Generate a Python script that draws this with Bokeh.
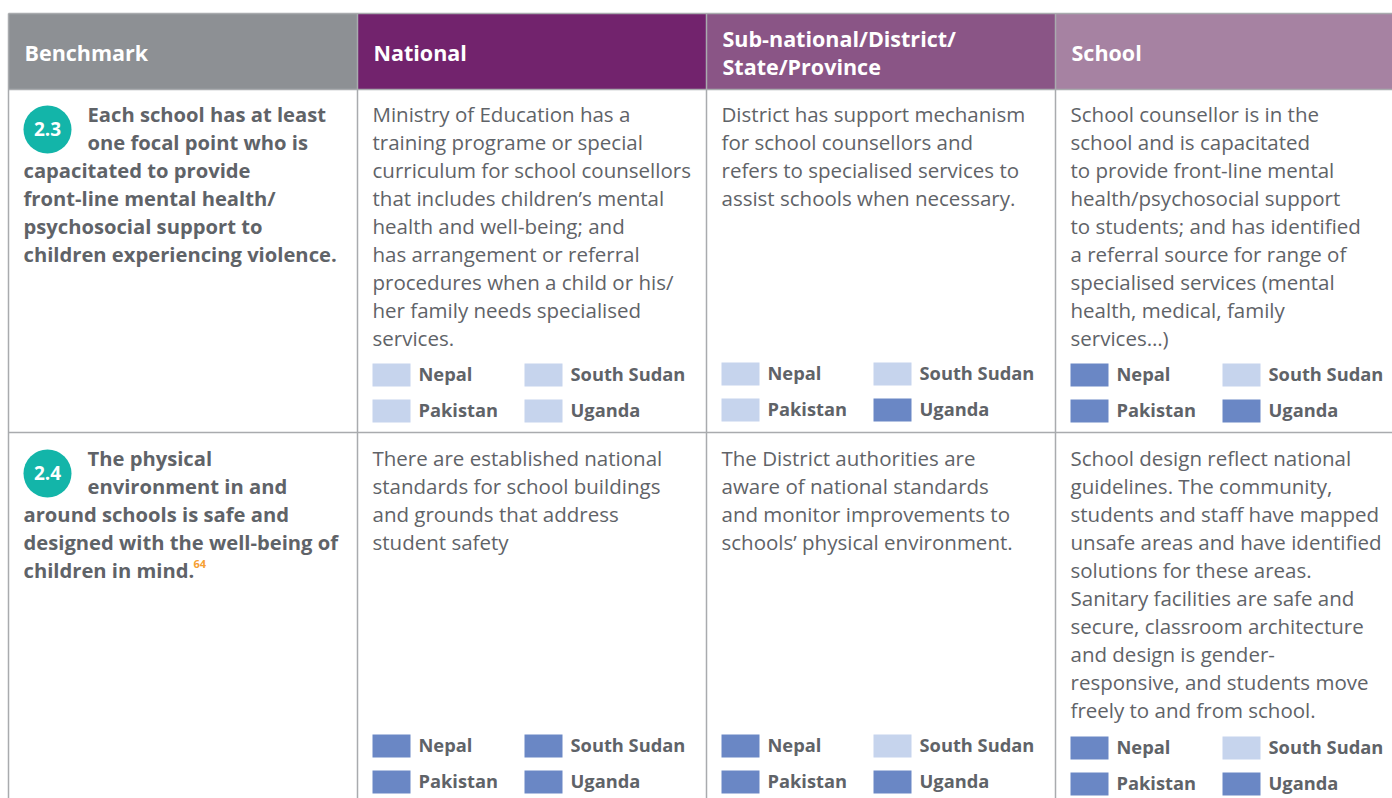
from bokeh.plotting import figure
from bokeh.models import Range1d
from bokeh.core.properties import value
from bokeh.embed import file_html
from bokeh.resources import INLINE

# ---------------- data ----------------
headers = ["Benchmark", "National", "Sub-national/District/\nState/Province", "School"]
benchmark_ids = ["2.3", "2.4"]
benchmark_23 = ["Each school has at least", "one focal point who is", "capacitated to provide",
                "front-line mental health/", "psychosocial support to",
                "children experiencing violence."]
benchmark_24 = ["The physical", "environment in and", "around schools is safe and",
                "designed with the well-being of", "children in mind."]
footnote_24 = "64"
national_23 = ["Ministry of Education has a", "training programe or special",
               "curriculum for school counsellors", "that includes children\u2019s mental",
               "health and well-being; and", "has arrangement or referral",
               "procedures when a child or his/", "her family needs specialised", "services."]
subnational_23 = ["District has support mechanism", "for school counsellors and",
                  "refers to specialised services to", "assist schools when necessary."]
school_23 = ["School counsellor is in the", "school and is capacitated",
             "to provide front-line mental", "health/psychosocial support",
             "to students; and has identified", "a referral source for range of",
             "specialised services (mental", "health, medical, family", "services\u2026)"]
national_24 = ["There are established national", "standards for school buildings",
               "and grounds that address", "student safety"]
subnational_24 = ["The District authorities are", "aware of national standards",
                  "and monitor improvements to", "schools\u2019 physical environment."]
school_24 = ["School design reflect national", "guidelines. The community,",
             "students and staff have mapped", "unsafe areas and have identified",
             "solutions for these areas.", "Sanitary facilities are safe and",
             "secure, classroom architecture", "and design is gender-",
             "responsive, and students move", "freely to and from school."]
countries = ["Nepal", "South Sudan", "Pakistan", "Uganda"]
# 1 = in place (dark swatch), 0 = not in place (light swatch); order as countries
status_23_national = [0, 0, 0, 0]
status_23_subnational = [0, 0, 0, 1]
status_23_school = [1, 0, 1, 1]
status_24_national = [1, 1, 1, 1]
status_24_subnational = [1, 0, 1, 1]
status_24_school = [1, 0, 1, 1]

# ---------------- styles ----------------
FONT = "Open Sans"
TEXT_COL = "#5f6368"
HEAD_COLS = ["#8d9094", "#72236d", "#8a5586", "#a682a2"]
DARK = "#6a87c5"
LIGHT = "#c6d4ed"
TEAL = "#13b5a9"
BORDER = "#a9abae"
ORANGE = "#f6a033"
BODY_SIZE = "20.5px"
BOLD_SIZE = "20.2px"
HEAD_SIZE = "21.5px"
LEG_SIZE = "18.3px"
TY = -2  # vertical correction of text baseline

col_edges = [8, 357, 706, 1055, 1410]
top, head_bottom, row1_bottom, bottom = 13, 89, 432, 810
line_h = 28

p = figure(width=1392, height=798, x_range=Range1d(0, 1392), y_range=Range1d(798, 0),
           output_backend="svg", toolbar_location=None, min_border=0,
           x_axis_location=None, y_axis_location=None)
p.grid.visible = False
p.outline_line_color = None
p.background_fill_color = "white"
p.border_fill_color = "white"

# header cells
p.quad(left=col_edges[:-1], right=col_edges[1:], top=[top] * 4, bottom=[head_bottom] * 4,
       fill_color=HEAD_COLS, line_color=None)

# header labels
for i, h in enumerate(headers):
    lines = h.split("\n")
    x0 = col_edges[i] + 16
    cy = (top + head_bottom) / 2 + 0.5
    start = cy - (len(lines) - 1) * line_h / 2
    p.text(x=[x0] * len(lines), y=[start + k * line_h for k in range(len(lines))], text=lines,
           text_font=value(FONT), text_font_style="bold", text_font_size=HEAD_SIZE,
           text_color="white", text_baseline="middle", text_align="left")

# borders
vx = col_edges[:4]
p.segment(x0=vx, y0=[top] * 4, x1=vx, y1=[bottom] * 4, line_color=BORDER, line_width=1.5)
p.segment(x0=[8, 8, 8], y0=[top, head_bottom, row1_bottom], x1=[1400] * 3,
          y1=[top, head_bottom, row1_bottom], line_color=BORDER, line_width=1.5)


def body(lines, col, y0, x_off=15, bold=False):
    x0 = col_edges[col] + x_off
    p.text(x=[x0] * len(lines), y=[y0 + TY + k * line_h for k in range(len(lines))], text=lines,
           text_font=value(FONT), text_font_style="bold" if bold else "normal",
           text_font_size=BOLD_SIZE if bold else BODY_SIZE, text_color=TEXT_COL,
           text_baseline="middle", text_align="left")


def legend(status, col, y0):
    for k, (c, s) in enumerate(zip(countries, status)):
        cx = col_edges[col] + 15 + (k % 2) * 152
        cy = y0 + (k // 2) * 36
        p.quad(left=[cx], right=[cx + 38], top=[cy - 11.5], bottom=[cy + 11.5],
               fill_color=DARK if s else LIGHT, line_color=None)
        p.text(x=[cx + 46], y=[cy + TY], text=[c], text_font=value(FONT), text_font_style="bold",
               text_font_size=LEG_SIZE, text_color=TEXT_COL, text_baseline="middle",
               text_align="left")


# benchmark column
row_first = [115, 459]
for r, lines in enumerate([benchmark_23, benchmark_24]):
    y0 = row_first[r]
    p.scatter(x=[47], y=[y0 + 14], size=48, fill_color=TEAL, line_color=None)
    p.text(x=[47], y=[y0 + 14 + TY / 2], text=[benchmark_ids[r]], text_font=value(FONT),
           text_font_style="bold", text_font_size="19px", text_color="white",
           text_baseline="middle", text_align="center")
    body(lines[:2], 0, y0, x_off=79, bold=True)
    body(lines[2:], 0, y0 + 2 * line_h, bold=True)
p.text(x=[193], y=[563], text=[footnote_24], text_font=value(FONT), text_font_style="bold",
       text_font_size="11px", text_color=ORANGE, text_baseline="middle", text_align="left")

# body cells
body(national_23, 1, 115)
body(subnational_23, 2, 115)
body(school_23, 3, 115)
body(national_24, 1, 459)
body(subnational_24, 2, 459)
body(school_24, 3, 459)

legend(status_23_national, 1, 374.5)
legend(status_23_subnational, 2, 373.5)
legend(status_23_school, 3, 374.5)
legend(status_24_national, 1, 745.5)
legend(status_24_subnational, 2, 745.5)
legend(status_24_school, 3, 747.5)

open("out.html", "w").write(file_html(p, INLINE))
